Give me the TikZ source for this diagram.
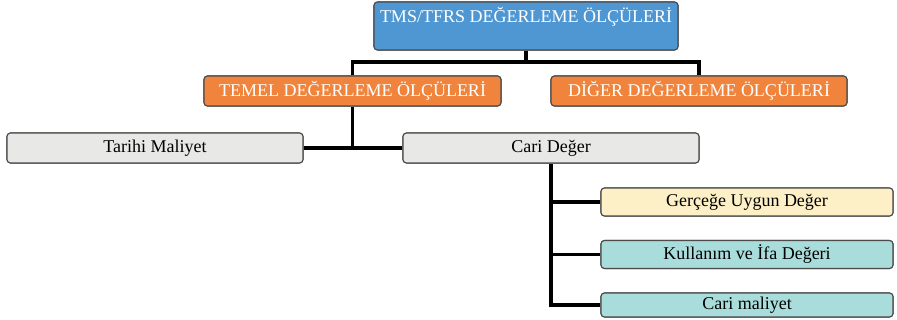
\documentclass[tikz,border=0pt]{standalone}
\usepackage{fontspec}
\setmainfont{Liberation Serif}
\begin{document}
\begin{tikzpicture}[x=1pt,y=-1pt,
  box/.style={draw=black!70, line width=1.1pt, rounded corners=3.5pt, inner sep=0pt, font=\fontsize{18}{20}\selectfont},
  conn/.style={line width=3.4pt, black}]
\useasboundingbox (0,0) rectangle (897,320);
\definecolor{bblue}{HTML}{4F97D3}
\definecolor{borange}{HTML}{F0843C}
\definecolor{bgrey}{HTML}{E8E9E7}
\definecolor{byellow}{HTML}{FDF0C6}
\definecolor{bteal}{HTML}{A9DDDC}
% boxes (for anchors)
\node[box, fill=bblue, minimum width=304pt, minimum height=48pt] (top) at (526,26) {};
\node[box, fill=borange, text=white, minimum width=297pt, minimum height=30pt] (temel) at (352.5,91) {TEMEL DEĞERLEME ÖLÇÜLERİ};
\node[box, fill=borange, text=white, minimum width=296pt, minimum height=30pt] (diger) at (699,91) {DİĞER DEĞERLEME ÖLÇÜLERİ};
\node[box, fill=bgrey, minimum width=296pt, minimum height=30pt] (tarihi) at (155,148) {Tarihi Maliyet};
\node[box, fill=bgrey, minimum width=296pt, minimum height=30pt] (cari) at (551,148) {Cari Değer};
% connectors
\coordinate (h1) at (526,62);
\draw[conn] (top.south) -- (h1);
\draw[conn] (temel.north) |- (h1) -| (diger.north);
\draw[conn] (temel.south) -- (temel.south |- tarihi.east);
\draw[conn] (tarihi.east) -- (cari.west);
\coordinate (vend) at (cari.south |- 0,305);
\node[box, fill=byellow, minimum width=292pt, minimum height=28pt] (gercege) at (747,202) {Gerçeğe Uygun Değer};
\node[box, fill=bteal, minimum width=292pt, minimum height=28pt] (kullanim) at (747,254.5) {Kullanım ve İfa Değeri};
\node[box, fill=bteal, minimum width=292pt, minimum height=24pt] (carimal) at (747,305) {Cari maliyet};
\draw[conn] (cari.south) -- (vend) -- (carimal.west);
\draw[conn] (cari.south |- gercege.west) -- (gercege.west);
\draw[conn] (cari.south |- kullanim.west) -- (kullanim.west);
% redraw boxes on top of lines
\node[box, fill=bblue, minimum width=304pt, minimum height=48pt] at (526,26) {};
\node[text=white, font=\fontsize{18}{20}\selectfont] (toptxt) at (526,17) {TMS/TFRS DEĞERLEME ÖLÇÜLERİ};
\node[box, fill=borange, text=white, minimum width=297pt, minimum height=30pt] at (352.5,91) {TEMEL DEĞERLEME ÖLÇÜLERİ};
\node[box, fill=borange, text=white, minimum width=296pt, minimum height=30pt] at (699,91) {DİĞER DEĞERLEME ÖLÇÜLERİ};
\node[box, fill=bgrey, minimum width=296pt, minimum height=30pt] at (155,148) {Tarihi Maliyet};
\node[box, fill=bgrey, minimum width=296pt, minimum height=30pt] at (551,148) {Cari Değer};
\node[box, fill=byellow, minimum width=292pt, minimum height=28pt] at (747,202) {Gerçeğe Uygun Değer};
\node[box, fill=bteal, minimum width=292pt, minimum height=28pt] at (747,254.5) {Kullanım ve İfa Değeri};
\node[box, fill=bteal, minimum width=292pt, minimum height=24pt] at (747,305) {Cari maliyet};
\end{tikzpicture}
\end{document}
